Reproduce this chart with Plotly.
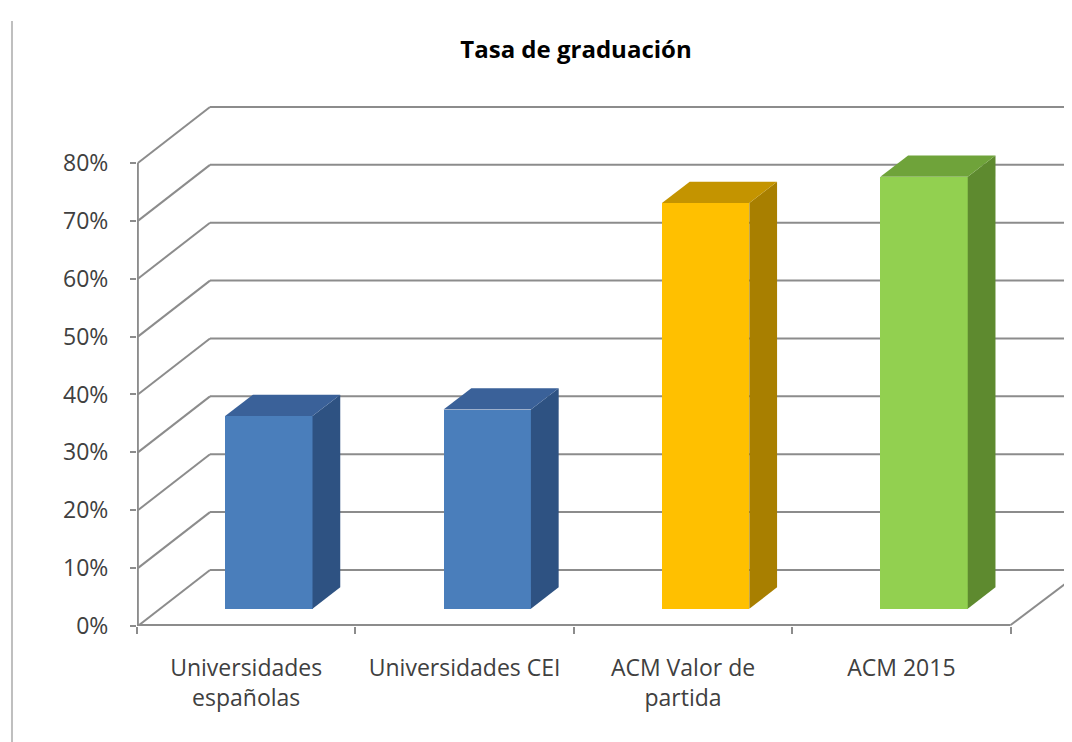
import plotly.graph_objects as go

# ---------------- data ----------------
categories = ["Universidades<br>españolas", "Universidades CEI", "ACM Valor de<br>partida", "ACM 2015"]
values = [0.333, 0.344, 0.701, 0.746]
front_colors = ["#4A7EBB", "#4A7EBB", "#FFC000", "#92D050"]
side_colors = ["#2E5282", "#2E5282", "#A87F00", "#5E8A2F"]
top_colors = ["#3A6199", "#3A6199", "#C49400", "#6FA33A"]
y_ticks = [0.0, 0.1, 0.2, 0.3, 0.4, 0.5, 0.6, 0.7, 0.8]
title_text = "Tasa de graduación"

# ---------------- 3D projection settings ----------------
DX = 73 / 218.4     # depth offset in category units
DV = 56 / 578.8     # depth offset in value units
F, B = 0.31, 0.69   # bar front/back depth fractions
HW = 0.2            # bar half width (category units)
X_MIN, X_MAX = -0.5, 3.781
Y_MAX = 0.9088
GRID = "#8C8C8C"
EPS_X = 0.004
EPS_Y = 0.0017

fig = go.Figure()

# front faces (bars)
fig.add_trace(go.Bar(
    x=[i + F * DX for i in range(len(values))],
    y=values,
    base=[F * DV] * len(values),
    width=[2 * HW] * len(values),
    marker=dict(color=front_colors, line=dict(width=0)),
    hoverinfo="skip", showlegend=False,
))

# side and top faces
for i, v in enumerate(values):
    sx = [i + HW + F * DX, i + HW + B * DX, i + HW + B * DX, i + HW + F * DX, i + HW + F * DX]
    sy = [F * DV, B * DV, v + B * DV, v + F * DV, F * DV]
    fig.add_trace(go.Scatter(x=sx, y=sy, mode="lines", fill="toself",
                             fillcolor=side_colors[i], line=dict(width=0, color=side_colors[i]),
                             hoverinfo="skip", showlegend=False))
    tx = [i - HW + F * DX, i + HW + F * DX, i + HW + B * DX, i - HW + B * DX, i - HW + F * DX]
    ty = [v + F * DV, v + F * DV, v + B * DV, v + B * DV, v + F * DV]
    fig.add_trace(go.Scatter(x=tx, y=ty, mode="lines", fill="toself",
                             fillcolor=top_colors[i], line=dict(width=0, color=top_colors[i]),
                             hoverinfo="skip", showlegend=False))

# walls / gridlines as shapes below the traces
shapes = []
n = len(categories)
for t in y_ticks:
    # back wall line
    shapes.append(dict(type="line", xref="x", yref="y", layer="below",
                       x0=X_MIN + DX, y0=t + DV, x1=n - 0.5 + DX + 0.2, y1=t + DV,
                       line=dict(color=GRID, width=2)))
    # side wall diagonal
    shapes.append(dict(type="line", xref="x", yref="y", layer="below",
                       x0=X_MIN + EPS_X, y0=t, x1=X_MIN + DX, y1=t + DV,
                       line=dict(color=GRID, width=2)))
# front vertical axis
shapes.append(dict(type="line", xref="x", yref="y", layer="below",
                   x0=X_MIN + EPS_X, y0=0, x1=X_MIN + EPS_X, y1=y_ticks[-1],
                   line=dict(color=GRID, width=2)))
# floor front edge
shapes.append(dict(type="line", xref="x", yref="y", layer="below",
                   x0=X_MIN, y0=EPS_Y, x1=n - 0.5, y1=EPS_Y,
                   line=dict(color=GRID, width=2)))
# floor right edge
shapes.append(dict(type="line", xref="x", yref="y", layer="below",
                   x0=n - 0.5, y0=EPS_Y, x1=n - 0.5 + DX, y1=DV,
                   line=dict(color=GRID, width=2)))
# chart-area border on the left
shapes.append(dict(type="line", xref="paper", yref="paper",
                   x0=-0.1337, y0=1.15, x1=-0.1337, y1=-0.25,
                   line=dict(color="#BFBFBF", width=2)))

font_family = "'Open Sans', sans-serif"
W, H = 1064, 734
fig.update_layout(
    width=W, height=H,
    margin=dict(l=129, r=0, t=92, b=116),
    paper_bgcolor="white", plot_bgcolor="white",
    shapes=shapes,
    showlegend=False,
    bargap=0,
    title=dict(text="<b>" + title_text + "</b>", xref="container", yref="container",
               x=(576 - 8) / W, y=1 - (50 - 8) / H, xanchor="center", yanchor="middle",
               font=dict(family=font_family, size=24, color="#000000")),
    xaxis=dict(range=[X_MIN, X_MAX], tickmode="array", tickvals=list(range(n)), ticktext=categories,
               ticks="", showgrid=False, zeroline=False, showline=False,
               tickfont=dict(family=font_family, size=23, color="#404040"),
               ticklabelstandoff=26,
               minor=dict(tickmode="array", tickvals=[k - 0.5 for k in range(n + 1)],
                          ticks="outside", ticklen=7, tickwidth=2, tickcolor=GRID, showgrid=False)),
    yaxis=dict(range=[0, Y_MAX], tickmode="array", tickvals=y_ticks, tickformat=".0%",
               ticks="outside", ticklen=6, tickwidth=2, tickcolor=GRID,
               showgrid=False, zeroline=False, showline=False,
               tickfont=dict(family=font_family, size=23, color="#404040"),
               ticklabelstandoff=17),
    font=dict(family=font_family),
)

fig.write_html("out.html")
